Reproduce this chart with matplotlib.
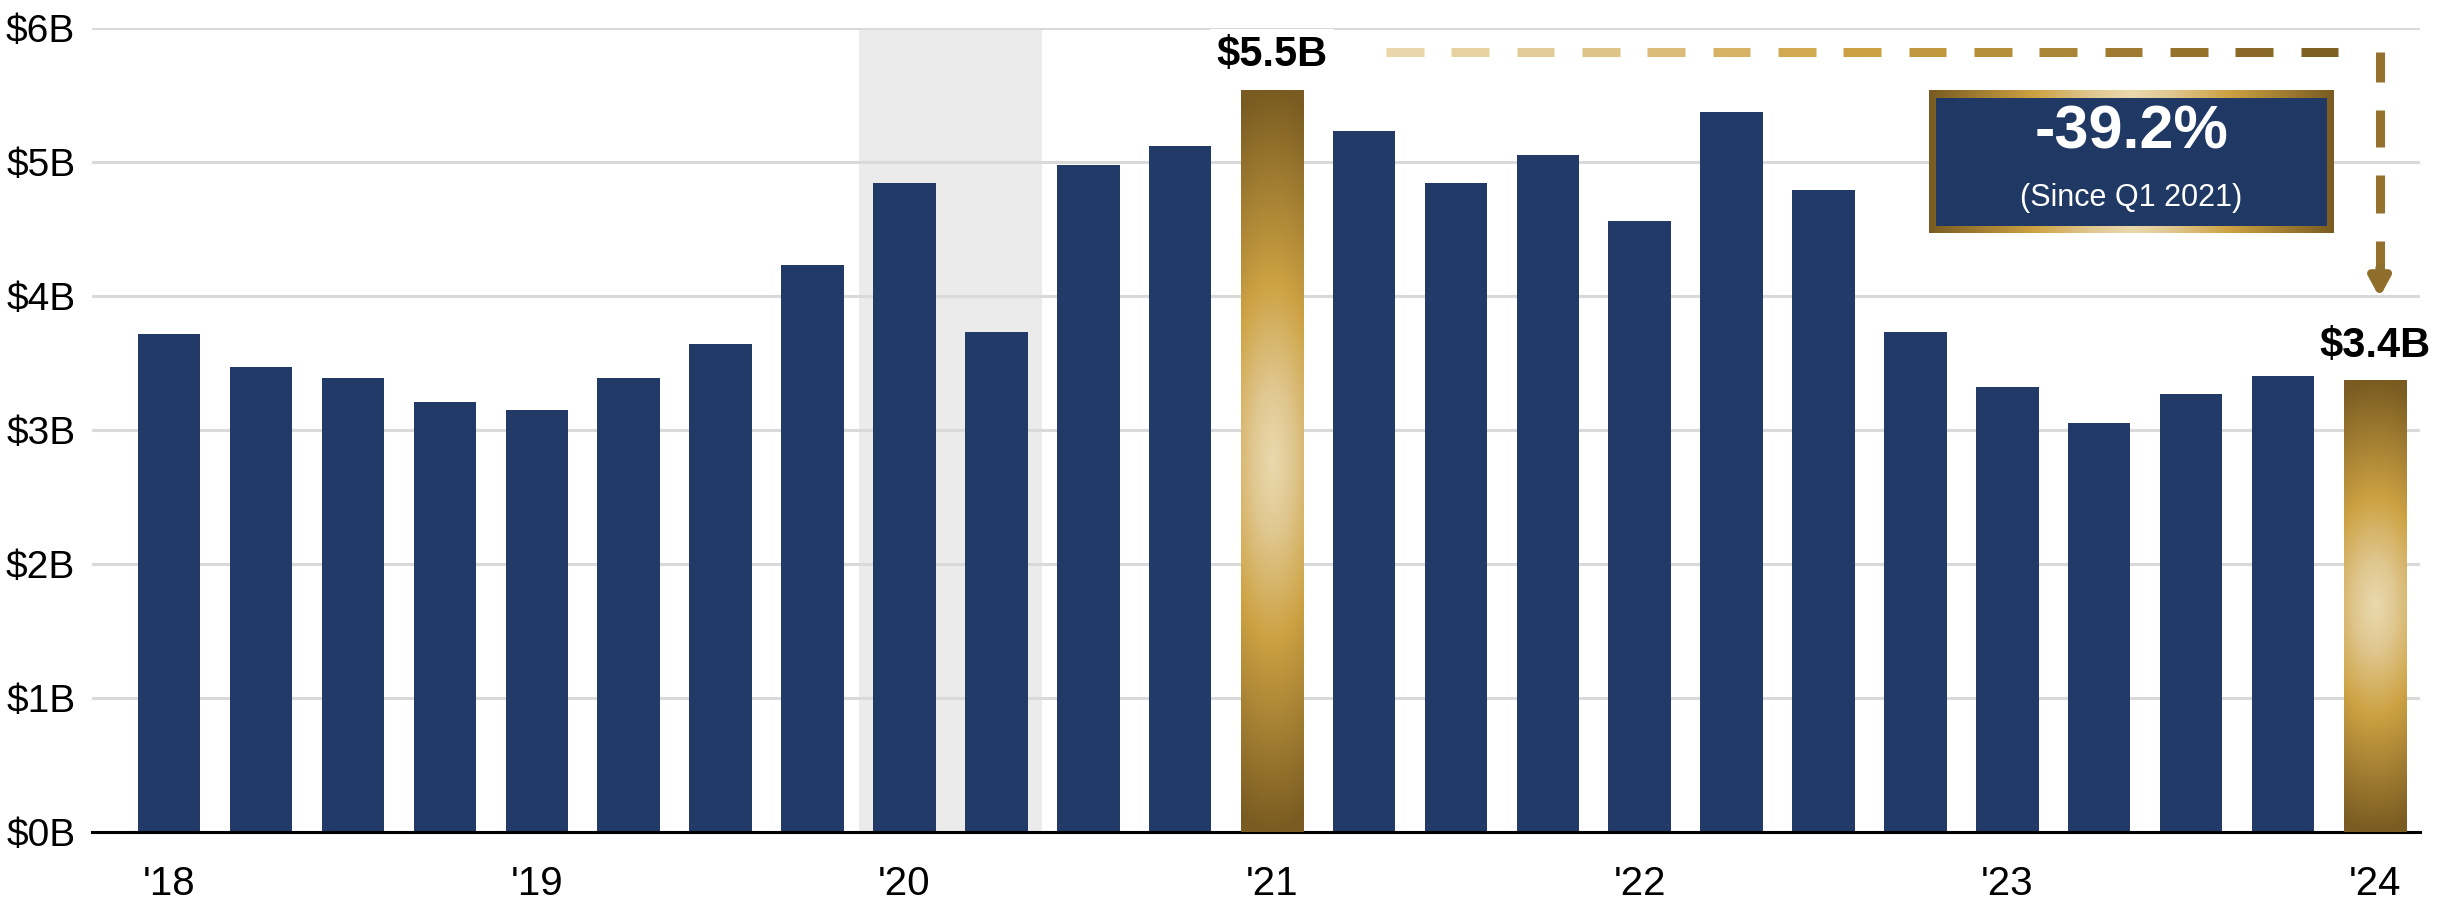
import numpy as np
import matplotlib
matplotlib.use('Agg')
import matplotlib.pyplot as plt
from matplotlib.colors import LinearSegmentedColormap
from matplotlib.patches import Rectangle

# quarterly values, Q1 2018 .. Q1 2024 ($B)
values = [3.72, 3.47, 3.39, 3.21, 3.15, 3.39, 3.64, 4.23, 4.84, 3.73,
          4.98, 5.12, 5.54, 5.23, 4.84, 5.05, 4.56, 5.37, 4.79, 3.73,
          3.32, 3.05, 3.27, 3.40, 3.37]
tick_pos = [0, 4, 8, 12, 16, 20, 24]
tick_labels = ["'18", "'19", "'20", "'21", "'22", "'23", "'24"]
y_ticks = [0, 1, 2, 3, 4, 5, 6]
y_labels = ['$0B', '$1B', '$2B', '$3B', '$4B', '$5B', '$6B']
highlight = [12, 24]
shade_span = (7.5, 9.5)
change_text = '-39.2%'
change_sub = '(Since Q1 2021)'

NAVY = '#213A68'
plt.rcParams['font.family'] = ['Liberation Sans', 'DejaVu Sans']

gold = LinearSegmentedColormap.from_list(
    'gold', [(0, '#EAD9AE'), (0.2, '#E0C78F'), (0.48, '#CDA243'), (1, '#7A5C22')])

fig = plt.figure(figsize=(24.5, 9.14), dpi=100)
ax = fig.add_axes([92 / 2450, 82 / 914, 2328 / 2450, 804 / 914])

x = np.arange(len(values))
w = 0.68
colors = ['none' if i in highlight else NAVY for i in x]
bars = ax.bar(x, values, width=w, color=colors, zorder=2)

# gold gradient fill for the highlighted bars
yy = np.linspace(-1, 1, 300)[:, None]
xx = np.linspace(-1, 1, 60)[None, :]
d = np.clip(np.sqrt(yy ** 2 + (0.3 * xx) ** 2), 0, 1)
for i in highlight:
    im = ax.imshow(d, cmap=gold, vmin=0, vmax=1, aspect='auto', interpolation='bilinear',
                   extent=[i - w / 2, i + w / 2, 0, values[i]], zorder=3)
    im.set_clip_path(bars[i])

ax.axvspan(*shade_span, ymin=0, ymax=1, color='#EBEBEB', zorder=0.2, lw=0)

ax.set_yticks(y_ticks, y_labels)
ax.set_xticks(tick_pos, tick_labels)
ax.yaxis.grid(True, color='#D9D9D9', lw=2.2)
ax.set_axisbelow(True)
for s in ['top', 'right', 'left']:
    ax.spines[s].set_visible(False)
ax.spines['bottom'].set_linewidth(2.2)
ax.tick_params(axis='both', length=0)
ax.tick_params(axis='y', labelsize=28, pad=12)
ax.tick_params(axis='x', labelsize=29, pad=24)

# value labels on highlighted bars
for i in highlight:
    ax.annotate(f'${values[i]:.1f}B', (i, values[i]), xytext=(0, 17), textcoords='offset points',
                ha='center', va='baseline', fontsize=30, fontweight='bold', zorder=6,
                bbox=dict(boxstyle='square,pad=0.15', fc='white', ec='none'))

# dashed gradient connector from the peak to the latest quarter
peak, last = highlight
y_line = values[peak] + 0.28
starts = np.linspace(peak + 1.24, last - 0.4 - 0.41, 15)
for k, s in enumerate(starts):
    ax.plot([s, s + 0.41], [y_line, y_line], color=gold(k / 14 * 0.95 + 0.02),
            lw=6.5, solid_capstyle='butt', zorder=4)

x_v = last + 0.05
y_head = values[last] + 0.62
dash, gap = 0.28, 0.21
top = y_line + 0.06
while top > y_head + 0.2:
    bot = max(top - dash, y_head + 0.19)
    ax.plot([x_v, x_v], [min(top, y_line), bot], color='#94722D', lw=6.5,
            solid_capstyle='butt', zorder=4)
    top -= dash + gap
ax.annotate('', xy=(x_v, y_head), xytext=(x_v, y_head + 0.22),
            arrowprops=dict(arrowstyle='-|>,head_length=1.1,head_width=0.6',
                            color='#8F6D2A', lw=6, shrinkA=0, shrinkB=0), zorder=4)

# percentage change box
bx0, bx1, by0, by1 = 19.15, 23.55, 4.47, 5.53
gx = np.abs(np.linspace(-1, 1, 200))[None, :]
ax.imshow(np.vstack([gx, gx]), cmap=gold, vmin=0, vmax=1, aspect='auto',
          interpolation='bilinear', extent=[bx0, bx1, by0, by1], zorder=5)
ax.add_patch(Rectangle((bx0 + 0.07, by0 + 0.05), bx1 - bx0 - 0.14, by1 - by0 - 0.10,
                       fc='#1F3864', ec='none', zorder=5.5))
ax.text((bx0 + bx1) / 2, 5.22, change_text, ha='center', va='center', color='white',
        fontsize=44, fontweight='bold', zorder=6)
ax.text((bx0 + bx1) / 2, 4.73, change_sub, ha='center', va='center', color='white',
        fontsize=22, zorder=6)

ax.set_xlim(-0.84, len(values) - 0.51)
ax.set_ylim(0, 6)
fig.savefig('out.png', dpi=100)
